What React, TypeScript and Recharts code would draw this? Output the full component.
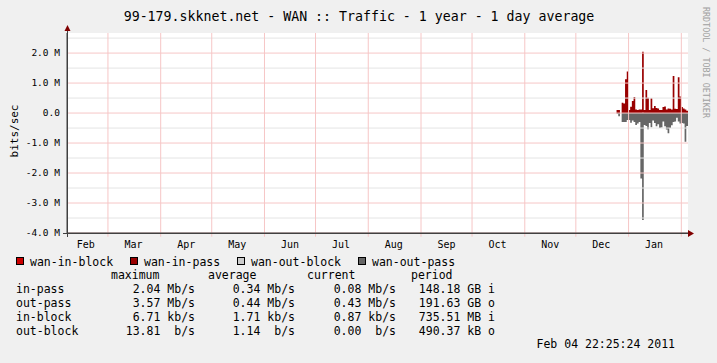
import React from 'react';
import { ComposedChart, Area, XAxis, YAxis, ReferenceLine } from 'recharts';

// ---- data (Mbit/s), one value per day, days counted from Feb 04 2010 22:25 ----
const firstDay = 323;
const inPass = [
  0.10, 0.10, 0.00, 0.34, 0.32, 1.12, 1.38, 0.10, 0.21, 0.40,
  0.53, 0.12, 0.10, 0.12, 0.12, 2.04, 0.10, 0.77, 0.51, 0.10,
  0.49, 0.16, 0.23, 0.17, 0.15, 0.10, 0.10, 0.20, 0.22, 0.12,
  0.15, 0.14, 0.12, 1.23, 0.14, 0.13, 1.19, 0.55, 0.20, 0.15,
  0.12, 0.08,
];
const inBlock = [
  0.002, 0.002, 0.000, 0.003, 0.002, 0.004, 0.003, 0.002, 0.002, 0.002,
  0.003, 0.002, 0.002, 0.002, 0.002, 0.007, 0.002, 0.002, 0.002, 0.002,
  0.002, 0.002, 0.002, 0.002, 0.002, 0.002, 0.002, 0.002, 0.002, 0.002,
  0.002, 0.002, 0.002, 0.002, 0.002, 0.002, 0.002, 0.002, 0.002, 0.002,
  0.001, 0.001,
];
const outPass = [
  -0.02, -0.11, 0.00, -0.30, -0.30, -0.30, -0.23, -0.23, -0.32, -0.25,
  -0.30, -0.40, -0.35, -0.30, -2.18, -3.57, -0.40, -0.43, -0.54, -0.33,
  -0.47, -0.25, -0.33, -0.44, -0.37, -0.50, -0.48, -0.28, -0.44, -0.55,
  -0.67, -0.50, -0.41, -0.30, -0.28, -0.16, -0.28, -0.35, -0.33, -0.35,
  -0.96, -0.43,
];
const outBlock = [
  0, 0, 0, 0, 0, 0, 0, 0, 0, 0,
  0, 0, 0, 0, 0, 0, 0, 0, 0, 0,
  0, 0, 0, 0, 0, 0, 0, 0, 0, 0,
  0, 0, 0, 0, 0, 0, 0, 0, 0, 0,
  0, 0,
];

const xMax = 365;
const yMin = -4;
const yMax = 2.67;
const monthStarts = [24.07, 55.07, 85.07, 116.07, 146.07, 177.07, 208.07, 238.07, 269.07, 299.07, 330.07, 361.07];
const monthLabelDays = [11.07, 39.07, 70.07, 100.07, 131.07, 161.07, 192.07, 223.07, 253.07, 284.07, 314.07, 345.07];
const monthLabels = ['Feb', 'Mar', 'Apr', 'May', 'Jun', 'Jul', 'Aug', 'Sep', 'Oct', 'Nov', 'Dec', 'Jan'];
const majorTicks = [-4, -3, -2, -1, 0, 1, 2];
const minorTicks = [-3.5, -2.5, -1.5, -0.5, 0.5, 1.5, 2.5];

const title = '99-179.skknet.net - WAN :: Traffic - 1 year - 1 day average';
const legendNames = ['wan-in-block', 'wan-in-pass', 'wan-out-block', 'wan-out-pass'];
const legendColors = ['#CC0000', '#990000', '#CCCCCC', '#666666'];
const statHeaders = ['maximum', 'average', 'current', 'period'];
const statRows = [
  ['in-pass', '2.04 Mb/s', '0.34 Mb/s', '0.08 Mb/s', '148.18 GB i'],
  ['out-pass', '3.57 Mb/s', '0.44 Mb/s', '0.43 Mb/s', '191.63 GB o'],
  ['in-block', '6.71 kb/s', '1.71 kb/s', '0.87 kb/s', '735.51 MB i'],
  ['out-block', '13.81  b/s', '1.14  b/s', '0.00  b/s', '490.37 kB o'],
];
const timestamp = 'Feb 04 22:25:24 2011';

const data = inPass.map((v, i) => ({
  day: firstDay + i,
  inPass: v,
  inBlock: inBlock[i],
  outPass: outPass[i],
  outBlock: outBlock[i],
}));
data.push({ ...data[data.length - 1], day: xMax });

const MONO = '"DejaVu Sans Mono", monospace';
const MAJOR = '#F6C6C6';
const MINOR = '#E4E4E4';

const fmtY = (v: number) => (v === 0 ? '0.0' : `${v.toFixed(1)} M`);
const fmtX = (v: number) => {
  const i = monthLabelDays.indexOf(v);
  return i >= 0 ? monthLabels[i] : '';
};

export default function App() {
  const W = 717;
  const H = 363;
  const statCols = [195, 295, 396, 495];
  const headerX = [111, 208, 307, 411];
  const legendSq = [16, 130, 237, 358];
  return (
    <div style={{ position: 'absolute', left: 0, top: 0, width: W, height: H, background: '#F0F0F0', overflow: 'hidden' }}>
      <div style={{ position: 'absolute', left: 67, top: 33, width: 621, height: 200, background: '#FFFFFF' }} />
      <div style={{ position: 'absolute', left: 0, top: 0 }}>
        <ComposedChart
          width={W}
          height={H}
          data={data}
          stackOffset="sign"
          margin={{ top: 33, right: 29, bottom: 100, left: 7 }}
        >
          {minorTicks.map((v) => (
            <ReferenceLine key={'mi' + v} y={v} stroke={MINOR} strokeWidth={1} ifOverflow="visible" />
          ))}
          {majorTicks.map((v) => (
            <ReferenceLine key={'ma' + v} y={v} stroke={MAJOR} strokeWidth={1} ifOverflow="visible" />
          ))}
          {monthStarts.map((d) => (
            <ReferenceLine
              key={'m' + d}
              segment={[{ x: d, y: yMin - 0.125 }, { x: d, y: yMax }]}
              stroke={MAJOR}
              strokeWidth={1}
              ifOverflow="visible"
            />
          ))}
          <XAxis
            dataKey="day"
            type="number"
            domain={[0, xMax]}
            allowDataOverflow
            ticks={monthLabelDays}
            tickFormatter={fmtX}
            interval={0}
            tickLine={false}
            tickSize={0}
            tickMargin={8}
            height={30}
            axisLine={{ stroke: '#404040' }}
            tick={{ fontFamily: MONO, fontSize: 10, fill: '#000' }}
          />
          <YAxis
            type="number"
            domain={[yMin, yMax]}
            allowDataOverflow
            ticks={majorTicks}
            tickFormatter={fmtY}
            interval={0}
            width={60}
            tickLine={false}
            tickSize={3}
            tickMargin={4}
            axisLine={{ stroke: '#404040' }}
            tick={{ fontFamily: MONO, fontSize: 9.5, fill: '#000' }}
          />
          <Area dataKey="inBlock" stackId="a" type="stepAfter" fill={legendColors[0]} fillOpacity={1} stroke="none" isAnimationActive={false} dot={false} activeDot={false} />
          <Area dataKey="inPass" stackId="a" type="stepAfter" fill={legendColors[1]} fillOpacity={1} stroke="none" isAnimationActive={false} dot={false} activeDot={false} />
          <Area dataKey="outBlock" stackId="a" type="stepAfter" fill={legendColors[2]} fillOpacity={1} stroke="none" isAnimationActive={false} dot={false} activeDot={false} />
          <Area dataKey="outPass" stackId="a" type="stepAfter" fill={legendColors[3]} fillOpacity={1} stroke="none" isAnimationActive={false} dot={false} activeDot={false} />
        </ComposedChart>
      </div>
      <svg width={W} height={H} style={{ position: 'absolute', left: 0, top: 0, pointerEvents: 'none' }}>
        <text x={359} y={21} textAnchor="middle" fontFamily={MONO} fontSize={13.25} fill="#000">{title}</text>
        <text x={14} y={131} textAnchor="middle" dominantBaseline="central" fontFamily={MONO} fontSize={11} fill="#000" transform="rotate(-90 14 131)">bits/sec</text>
        <text x={706} y={7} textAnchor="start" dominantBaseline="central" fontFamily={MONO} fontSize={8.4} fill="#A0A0A0" transform="rotate(90 706 7)">RRDTOOL / TOBI OETIKER</text>
        {/* axis extensions and arrows */}
        <line x1={63} y1={233.5} x2={688} y2={233.5} stroke="#404040" strokeWidth={1} />
        <line x1={67.5} y1={237} x2={67.5} y2={29} stroke="#404040" strokeWidth={1} />
        <polygon points="688,230 694,233.5 688,237" fill="#800000" />
        <polygon points="64.5,31 67.5,25 70.5,31" fill="#800000" />
        {legendNames.map((n, i) => (
          <g key={n}>
            <rect x={legendSq[i] + 0.5} y={257.5} width={7} height={7} fill={legendColors[i]} stroke="#000" strokeWidth={1} />
            <text x={legendSq[i] + 14} y={265.5} fontFamily={MONO} fontSize={11.5} fill="#000">{n}</text>
          </g>
        ))}
        {statHeaders.map((h, i) => (
          <text key={h} x={headerX[i]} y={279} fontFamily={MONO} fontSize={11.5} fill="#000">{h}</text>
        ))}
        {statRows.map((r, ri) => (
          <g key={r[0]}>
            <text x={16} y={293 + ri * 14} fontFamily={MONO} fontSize={11.5} fill="#000">{r[0]}</text>
            {r.slice(1).map((c, ci) => (
              <text key={ci} x={statCols[ci]} y={293 + ri * 14} textAnchor="end" fontFamily={MONO} fontSize={11.5} fill="#000" style={{ whiteSpace: 'pre' }}>{c}</text>
            ))}
          </g>
        ))}
        <text x={675} y={348} textAnchor="end" fontFamily={MONO} fontSize={11.5} fill="#000">{timestamp}</text>
      </svg>
    </div>
  );
}
